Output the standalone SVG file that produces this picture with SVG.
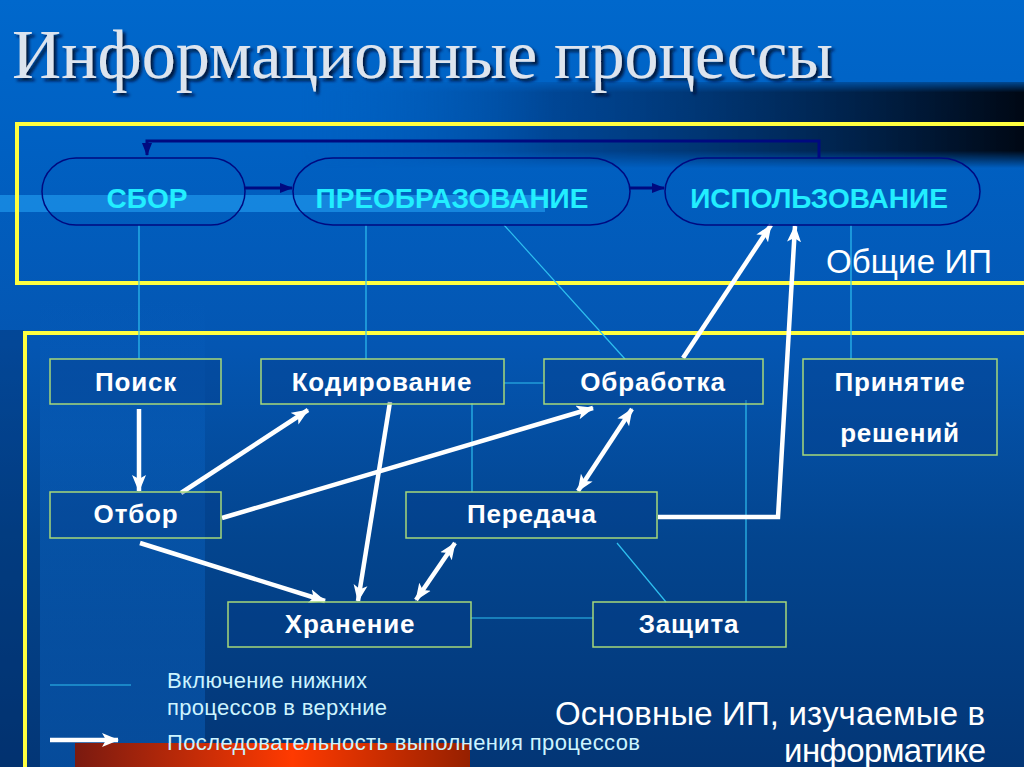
<svg xmlns="http://www.w3.org/2000/svg" width="1024" height="767" viewBox="0 0 1024 767">
<defs>
<linearGradient id="bgV" x1="0" y1="0" x2="0" y2="1">
<stop offset="0" stop-color="#0068cc"/>
<stop offset="0.2" stop-color="#0060c2"/>
<stop offset="0.45" stop-color="#0456b2"/>
<stop offset="0.7" stop-color="#03458f"/>
<stop offset="1" stop-color="#033676"/>
</linearGradient>
<linearGradient id="darkBand" x1="0" y1="0" x2="1" y2="0">
<stop offset="0" stop-color="#0060c0" stop-opacity="0"/>
<stop offset="0.35" stop-color="#003a80" stop-opacity="0.7"/>
<stop offset="1" stop-color="#000814" stop-opacity="1"/>
</linearGradient>
<linearGradient id="darkBandV" x1="0" y1="0" x2="0" y2="1">
<stop offset="0" stop-color="#fff" stop-opacity="0.3"/>
<stop offset="0.12" stop-color="#fff" stop-opacity="1"/>
<stop offset="0.8" stop-color="#fff" stop-opacity="1"/>
<stop offset="1" stop-color="#fff" stop-opacity="0"/>
</linearGradient>
<linearGradient id="stripe" x1="0" y1="0" x2="0" y2="1">
<stop offset="0" stop-color="#0a66c8" stop-opacity="0"/>
<stop offset="0.3" stop-color="#0a66c8" stop-opacity="0.35"/>
<stop offset="1" stop-color="#0a66c8" stop-opacity="0.45"/>
</linearGradient>
<mask id="bandMask"><rect x="300" y="82" width="724" height="86" fill="url(#darkBandV)"/></mask>
<linearGradient id="redBar" x1="0" y1="0" x2="1" y2="0">
<stop offset="0" stop-color="#7a1a10"/>
<stop offset="0.55" stop-color="#ff3a00"/>
<stop offset="1" stop-color="#962000"/>
</linearGradient>
<filter id="shadow" x="-5%" y="-20%" width="110%" height="150%">
<feDropShadow dx="3" dy="3" stdDeviation="1.5" flood-color="#001030" flood-opacity="0.9"/>
</filter>
<marker id="wa" markerUnits="userSpaceOnUse" markerWidth="18" markerHeight="16" refX="16" refY="8" orient="auto-start-reverse">
<path d="M0,1 L17,8 L0,15 L4,8 Z" fill="#ffffff"/>
</marker>
<marker id="na" markerUnits="userSpaceOnUse" markerWidth="14" markerHeight="12" refX="12" refY="6" orient="auto">
<path d="M0,1 L13,6 L0,11 Z" fill="#000a80"/>
</marker>
<style>
.pill{fill:none;stroke:#000a80;stroke-width:1.5}
.ptxt{font-family:"Liberation Sans",Arial,sans-serif;font-weight:bold;font-size:28px;fill:#22eeff;text-anchor:middle}
.box{fill:#053c86;fill-opacity:0.35;stroke:#a6d87a;stroke-width:1.5}
.btxt{font-family:"Liberation Sans",Arial,sans-serif;font-weight:bold;font-size:26px;letter-spacing:0.8px;fill:#ffffff;text-anchor:middle}
.incl{stroke:#2ec0f0;stroke-width:1.2;fill:none}
.seq{stroke:#ffffff;stroke-width:4.5;fill:none;marker-end:url(#wa)}
.seq2{stroke:#ffffff;stroke-width:4.5;fill:none;marker-end:url(#wa);marker-start:url(#wa)}
.nav{stroke:#000a80;stroke-width:3;fill:none;marker-end:url(#na)}
.frame{fill:none;stroke:#ffff40;stroke-width:4}
.lg{font-family:"Liberation Sans",Arial,sans-serif;font-size:22px;fill:#ccf4ff}
.big{font-family:"Liberation Sans",Arial,sans-serif;font-size:33px;fill:#ffffff}
</style>
</defs>

<!-- background -->
<rect x="0" y="0" width="1024" height="767" fill="url(#bgV)"/>
<rect x="40" y="300" width="165" height="467" fill="url(#stripe)"/>
<rect x="0" y="330" width="24" height="437" fill="#022c64" fill-opacity="0.35"/>
<rect x="300" y="82" width="724" height="86" fill="url(#darkBand)" mask="url(#bandMask)"/>
<rect x="0" y="195" width="545" height="17" fill="#1a90e6" fill-opacity="0.8"/>
<rect x="75" y="743" width="395" height="24" fill="url(#redBar)"/>

<!-- title -->
<text x="12" y="78" font-family="Liberation Serif,'Times New Roman',serif" font-size="70" fill="#dde4ee" filter="url(#shadow)" textLength="821" lengthAdjust="spacingAndGlyphs">Информационные процессы</text>

<!-- frames -->
<rect class="frame" x="17" y="124" width="1030" height="159"/>
<rect class="frame" x="25" y="333" width="1030" height="460"/>

<!-- connectors -->
<g id="connectors">
<line class="incl" x1="139" y1="225" x2="139" y2="359"/>
<line class="incl" x1="366" y1="225" x2="366" y2="359"/>
<line class="incl" x1="504" y1="225" x2="625" y2="359"/>
<line class="incl" x1="851" y1="225" x2="851" y2="359"/>
<line class="incl" x1="504" y1="383" x2="544" y2="383"/>
<line class="incl" x1="472" y1="403" x2="472" y2="492"/>
<line class="incl" x1="746" y1="400" x2="746" y2="602"/>
<line class="incl" x1="617" y1="543" x2="666" y2="602"/>
<line class="incl" x1="471" y1="618" x2="593" y2="618"/>

<path class="nav" d="M245,188 L292,188"/>
<path class="nav" d="M630,188 L664,188"/>
<path class="nav" d="M819,158 L819,141 L147,141 L147,155"/>

<line class="seq" x1="139" y1="409" x2="139" y2="491"/>
<line class="seq" x1="181" y1="493" x2="308" y2="410"/>
<line class="seq" x1="222" y1="518" x2="593" y2="408"/>
<line class="seq" x1="140" y1="543" x2="325" y2="601"/>
<line class="seq" x1="390" y1="402" x2="358" y2="601"/>
<line class="seq2" x1="416" y1="600" x2="455" y2="543"/>
<line class="seq2" x1="578" y1="491" x2="632" y2="409"/>
<line class="seq" x1="683" y1="358" x2="771" y2="225"/>
<path class="seq" d="M658,517 L778,517 L795,226"/>
</g>

<!-- top level pills -->
<g id="n-sbor">
<rect class="pill" x="42" y="158" width="203" height="67" rx="34" ry="34"/>
<text class="ptxt" x="147" y="208">СБОР</text>
</g>
<g id="n-preobr">
<rect class="pill" x="293" y="158" width="337" height="67" rx="40" ry="34"/>
<text class="ptxt" x="452" y="208">ПРЕОБРАЗОВАНИЕ</text>
</g>
<g id="n-ispolz">
<rect class="pill" x="665" y="158" width="315" height="67" rx="40" ry="34"/>
<text class="ptxt" x="819" y="208">ИСПОЛЬЗОВАНИЕ</text>
</g>

<text class="big" x="826" y="273" font-size="30" textLength="166">Общие ИП</text>

<!-- process boxes -->
<g id="n-poisk">
<rect class="box" x="50" y="359" width="171" height="45"/>
<text class="btxt" x="136" y="391">Поиск</text>
</g>
<g id="n-kodir">
<rect class="box" x="261" y="359" width="243" height="45"/>
<text class="btxt" x="382" y="391">Кодирование</text>
</g>
<g id="n-obrab">
<rect class="box" x="544" y="359" width="219" height="45"/>
<text class="btxt" x="653" y="391">Обработка</text>
</g>
<g id="n-prin">
<rect class="box" x="803" y="359" width="194" height="96"/>
<text class="btxt" x="900" y="391">Принятие</text>
<text class="btxt" x="900" y="442">решений</text>
</g>
<g id="n-otbor">
<rect class="box" x="50" y="492" width="171" height="46"/>
<text class="btxt" x="136" y="523">Отбор</text>
</g>
<g id="n-pered">
<rect class="box" x="406" y="492" width="251" height="46"/>
<text class="btxt" x="532" y="523">Передача</text>
</g>
<g id="n-hran">
<rect class="box" x="228" y="602" width="243" height="45"/>
<text class="btxt" x="350" y="633">Хранение</text>
</g>
<g id="n-zasch">
<rect class="box" x="593" y="602" width="193" height="45"/>
<text class="btxt" x="689" y="633">Защита</text>
</g>

<!-- legend -->
<g id="legend">
<line class="incl" x1="50" y1="685" x2="131" y2="685"/>
<line stroke="#ffffff" stroke-width="4.5" x1="50" y1="740" x2="118" y2="740" marker-end="url(#wa)"/>
<text class="lg" x="167" y="688" textLength="200">Включение нижних</text>
<text class="lg" x="167" y="715" textLength="220">процессов в верхние</text>
<text class="lg" x="167" y="750" fill="#ffffff" textLength="473">Последовательность выполнения процессов</text>
</g>

<text class="big" x="555" y="725" textLength="430">Основные ИП, изучаемые в</text>
<text class="big" x="784" y="762" textLength="202">информатике</text>
</svg>
